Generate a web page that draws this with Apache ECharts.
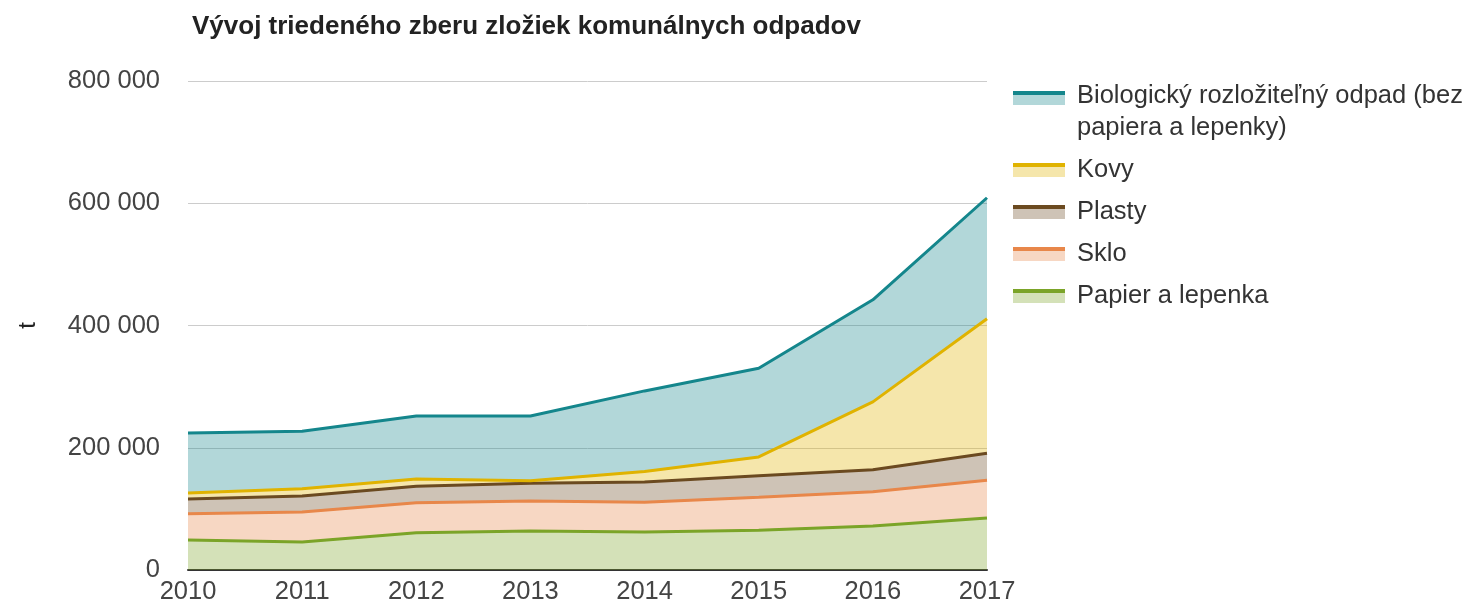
<!DOCTYPE html>
<html>
<head>
<meta charset="utf-8">
<script src="https://cdn.jsdelivr.net/npm/echarts@6/dist/echarts.min.js"></script>
<style>
    html, body { margin: 0; padding: 0; background: #fff; }
    #chart { width: 1475px; height: 607px; }
</style>
</head>
<body>
<div id="chart"></div>
<script>
// roky
const years = ['2010', '2011', '2012', '2013', '2014', '2015', '2016', '2017'];

// hodnoty v tonach, odčítané z grafu (stohované)
const papier = [49000, 46000, 61000, 64000, 62000, 65000, 72000, 85000];
const sklo = [43000, 49000, 49000, 49000, 49000, 54000, 56000, 62000];
const plasty = [24000, 26000, 27000, 29000, 33000, 35000, 36000, 44000];
const kovy = [10000, 12000, 12000, 4000, 17000, 31000, 111000, 220000];
const bio = [98000, 94000, 103000, 106000, 132000, 145000, 167000, 198000];

const yTicks = [0, 200000, 400000, 600000, 800000];

const names = {
    bio: 'Biologický rozložiteľný odpad (bez papiera a lepenky)',
    kovy: 'Kovy',
    plasty: 'Plasty',
    sklo: 'Sklo',
    papier: 'Papier a lepenka'
};

const colors = {
    bio: '#14868c',
    kovy: '#e0b300',
    plasty: '#6b4a20',
    sklo: '#e8874a',
    papier: '#7ba428'
};

const fmt = v => String(v).replace(/\B(?=(\d{3})+(?!\d))/g, ' ');

// ikona legendy: čiara + svetlá plocha
function legendIcon(color, h, top) {
    const svg = '<svg xmlns="http://www.w3.org/2000/svg" width="59" height="' + h + '" viewBox="0 0 59 ' + h + '">' +
        '<rect x="0" y="' + (top + 4) + '" width="52" height="10" fill="' + color + '" fill-opacity="0.33"/>' +
        '<rect x="0" y="' + top + '" width="52" height="4" fill="' + color + '"/>' +
        '</svg>';
    return 'image://data:image/svg+xml;charset=utf-8,' + encodeURIComponent(svg);
}

function makeSeries(key, data) {
    return {
        name: names[key],
        type: 'line',
        stack: 'spolu',
        data: data,
        showSymbol: false,
        symbol: 'none',
        color: colors[key],
        lineStyle: { width: 3, color: colors[key] },
        areaStyle: { color: colors[key], opacity: 0.33 },
        emphasis: { disabled: true }
    };
}

const myChart = echarts.init(document.getElementById('chart'));

const option = {
    animation: false,
    textStyle: { fontFamily: 'Liberation Sans, Arial, sans-serif' },
    title: {
        text: 'Vývoj triedeného zberu zložiek komunálnych odpadov',
        left: 187,
        top: 9,
        textStyle: { fontSize: 26, fontWeight: 'bold', color: '#222' }
    },
    tooltip: { trigger: 'axis' },
    legend: [
        {
            left: 1013,
            top: 80,
            padding: 0,
            orient: 'vertical',
            itemWidth: 59,
            itemHeight: 64,
            data: [{ name: names.bio, icon: legendIcon(colors.bio, 64, 11) }],
            formatter: () => 'Biologický rozložiteľný odpad (bez\npapiera a lepenky)',
            textStyle: { fontSize: 25.5, color: '#333', lineHeight: 32 }
        },
        {
            left: 1013,
            top: 154,
            padding: 0,
            orient: 'vertical',
            itemWidth: 59,
            itemHeight: 16,
            itemGap: 10,
            data: [
                { name: names.kovy, icon: legendIcon(colors.kovy, 16, 1) },
                { name: names.plasty, icon: legendIcon(colors.plasty, 16, 1) },
                { name: names.sklo, icon: legendIcon(colors.sklo, 16, 1) },
                { name: names.papier, icon: legendIcon(colors.papier, 16, 1) }
            ],
            textStyle: { fontSize: 25.5, color: '#333', lineHeight: 32 }
        }
    ],
    grid: {
        left: 188,
        right: 488,
        top: 81,
        bottom: 37
    },
    xAxis: {
        type: 'category',
        data: years,
        boundaryGap: false,
        axisLine: { lineStyle: { color: '#333', width: 2 } },
        axisTick: { show: false },
        axisLabel: { fontSize: 25.5, color: '#444', margin: 9 }
    },
    yAxis: {
        type: 'value',
        min: yTicks[0],
        max: yTicks[yTicks.length - 1],
        interval: 200000,
        name: 't',
        nameLocation: 'middle',
        nameGap: 148,
        nameRotate: 90,
        nameTextStyle: { fontSize: 24, color: '#222' },
        axisLine: { show: false },
        axisTick: { show: false },
        axisLabel: { fontSize: 25.5, color: '#444', margin: 28, formatter: fmt },
        splitLine: { lineStyle: { color: '#ccc', width: 1 } }
    },
    series: [
        makeSeries('papier', papier),
        makeSeries('sklo', sklo),
        makeSeries('plasty', plasty),
        makeSeries('kovy', kovy),
        makeSeries('bio', bio)
    ]
};

myChart.setOption(option);

window.addEventListener('resize', function () {
    myChart.resize();
});
</script>
</body>
</html>
